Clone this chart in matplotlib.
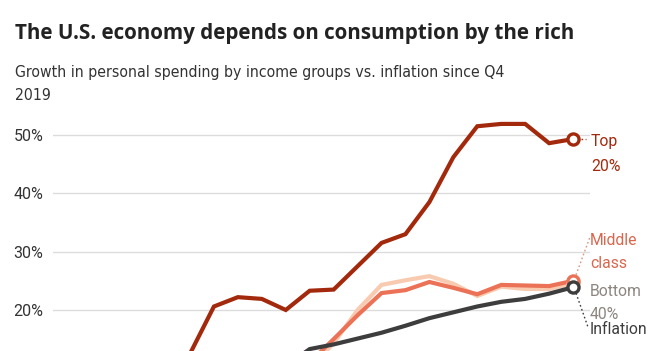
import matplotlib
matplotlib.use("Agg")
import matplotlib.pyplot as plt
from matplotlib import font_manager as fm

# Quarterly, Q4 2019 .. Q1 2025
quarters = ["Q4 2019", "Q1 2020", "Q2 2020", "Q3 2020", "Q4 2020", "Q1 2021", "Q2 2021",
            "Q3 2021", "Q4 2021", "Q1 2022", "Q2 2022", "Q3 2022", "Q4 2022", "Q1 2023",
            "Q2 2023", "Q3 2023", "Q4 2023", "Q1 2024", "Q2 2024", "Q3 2024", "Q4 2024",
            "Q1 2025"]
top20 = [0, -2.5, -13, -3, 1.5, 12.5, 20.6, 22.2, 21.9, 20.0, 23.3, 23.5, 27.5, 31.5,
         33.0, 38.5, 46.2, 51.5, 51.9, 51.9, 48.6, 49.3]
middle = [0, -1.5, -9, -1, 1.5, 5, 7, 8, 9, 10, 11.0, 15.0, 19.1, 22.9, 23.4, 24.8,
          23.8, 22.7, 24.3, 24.2, 24.1, 25.0]
bottom40 = [0, -1, -6, 1, 3, 7, 8.5, 9, 9.5, 10, 10.0, 14.3, 20.0, 24.3, 25.1, 25.8,
            24.5, 22.4, 24.0, 23.6, 23.6, 24.6]
inflation = [0, 0.6, -0.4, 0.9, 1.6, 2.6, 4.8, 6.3, 8.0, 10.4, 13.3, 14.1, 15.1, 16.1,
             17.3, 18.6, 19.6, 20.6, 21.4, 21.9, 22.8, 23.9]
grid_values = [0, 10, 20, 30, 40, 50]
yticks = [20, 30, 40, 50]
ytick_labels = ["20%", "30%", "40%", "50%"]

title = "The U.S. economy depends on consumption by the rich"
subtitle = "Growth in personal spending by income groups vs. inflation since Q4\n2019"

C_TOP = "#a3290d"
C_MID = "#ec7257"
C_BOT = "#f8cbb1"
C_INF = "#3d3d3d"

# look for a condensed / narrow sans for the subtitle
sub_prop = None
for f in fm.fontManager.ttflist:
    nm = f.name.lower()
    if ("narrow" in nm or "condensed" in nm or "condensed" in str(f.stretch).lower()
            or "condensed" in f.fname.lower()) and f.style == "normal" \
            and f.weight in (300, 400, "normal", "light", "regular") \
            and "mono" not in nm and "serif" not in f.fname.lower().replace("sans", ""):
        sub_prop = fm.FontProperties(fname=f.fname)
        break
if sub_prop is None:
    sub_prop = fm.FontProperties(family="Roboto")

W, H = 655, 351
fig = plt.figure(figsize=(W / 100, H / 100), dpi=100)

# axes geometry in pixels (the chart is cropped at the bottom)
px_per_pct = 5.833
y50 = 135
ymin, ymax = -15, 55
ax_top_px = y50 - (ymax - 50) * px_per_pct
ax_bot_px = y50 + (50 - ymin) * px_per_pct
ax_left_px, ax_right_px = 53, 590
x0_px, dx_px = 70.3, 23.94
ax = fig.add_axes([ax_left_px / W, 1 - ax_bot_px / H,
                   (ax_right_px - ax_left_px) / W, (ax_bot_px - ax_top_px) / H])
ax.set_ylim(ymin, ymax)
ax.set_xlim((ax_left_px - x0_px) / dx_px, (ax_right_px - x0_px) / dx_px)
ax.patch.set_visible(False)
for s in ax.spines.values():
    s.set_visible(False)
ax.set_xticks([])
ax.set_yticks(yticks)
ax.set_yticklabels(ytick_labels, fontsize=11.5, color="#333333", family="Roboto")
ax.tick_params(axis="y", length=0, pad=7)
for v in grid_values:
    ax.axhline(v, color="#dcdcdc", lw=1.0, zorder=0)

x = list(range(len(quarters)))
lw = 3.0
ax.plot(x, bottom40, color=C_BOT, lw=lw, solid_joinstyle="miter", zorder=2)
ax.plot(x, middle, color=C_MID, lw=lw, solid_joinstyle="miter", zorder=3)
ax.plot(x, inflation, color=C_INF, lw=lw, solid_joinstyle="miter", zorder=4)
ax.plot(x, top20, color=C_TOP, lw=lw, solid_joinstyle="miter", zorder=5)

xe = x[-1]
mk = dict(marker="o", markersize=8, markerfacecolor="white", markeredgewidth=2.4, clip_on=False)
ax.plot([xe], [bottom40[-1]], markeredgecolor=C_BOT, zorder=6, **mk)
ax.plot([xe], [middle[-1]], markeredgecolor=C_MID, zorder=7, **mk)
ax.plot([xe], [inflation[-1]], markeredgecolor=C_INF, zorder=8, **mk)
ax.plot([xe], [top20[-1]], markeredgecolor=C_TOP, zorder=9, **mk)

# leader lines (offsets in pixels from end points)
def leader(yv, dx0, dy0, dx1, dy1, color):
    bx, by = ax.transData.transform((xe, yv))
    fig.add_artist(plt.Line2D([bx + dx0, bx + dx1], [by + dy0, by + dy1],
                              transform=None, color=color, lw=1.0,
                              linestyle=(0, (1.2, 1.8)), zorder=10))

leader(top20[-1], 8, 0, 13, 0, C_TOP)
leader(middle[-1], 3, 6, 17, 44, "#d9967c")
leader(inflation[-1], 3, -6, 15, -40, C_INF)

lab = dict(xycoords="data", textcoords="offset pixels", fontsize=11.3,
           family="Roboto", ha="left", va="center", annotation_clip=False)
ax.annotate("Top", xy=(xe, top20[-1]), xytext=(18, -2), color=C_TOP, **lab)
ax.annotate("20%", xy=(xe, top20[-1]), xytext=(18, -27), color=C_TOP, **lab)
ax.annotate("Middle", xy=(xe, middle[-1]), xytext=(17, 40), color="#d9674e", **lab)
ax.annotate("class", xy=(xe, middle[-1]), xytext=(17, 17), color="#d9674e", **lab)
ax.annotate("Bottom", xy=(xe, bottom40[-1]), xytext=(17, -8), color="#8c8580", **lab)
ax.annotate("40%", xy=(xe, bottom40[-1]), xytext=(17, -31), color="#8c8580", **lab)
ax.annotate("Inflation", xy=(xe, inflation[-1]), xytext=(17, -42), color=C_INF, **lab)

t_title = fig.text(15 / W, 1 - 33 / H, title, fontsize=14.8, fontweight="bold",
                   family=["Open Sans", "Roboto", "DejaVu Sans"],
                   color="#222222", ha="left", va="center")
t_sub = fig.text(15 / W, 1 - 72 / H, subtitle.split("\n")[0], fontproperties=sub_prop,
                 fontsize=13.5, color="#333333", ha="left", va="center")
t_sub2 = fig.text(15 / W, 1 - 95 / H, subtitle.split("\n")[1], fontproperties=sub_prop,
                  fontsize=13.5, color="#333333", ha="left", va="center")

# fit text widths to the reference layout
def fit(t, target_px):
    fig.canvas.draw()
    r = fig.canvas.get_renderer()
    w = t.get_window_extent(r).width
    return t.get_fontsize() * target_px / w

t_title.set_fontsize(min(16, fit(t_title, 560)))
fs = fit(t_sub, 488)
t_sub.set_fontsize(fs)
t_sub2.set_fontsize(fs)

fig.savefig("out.png", dpi=100)
